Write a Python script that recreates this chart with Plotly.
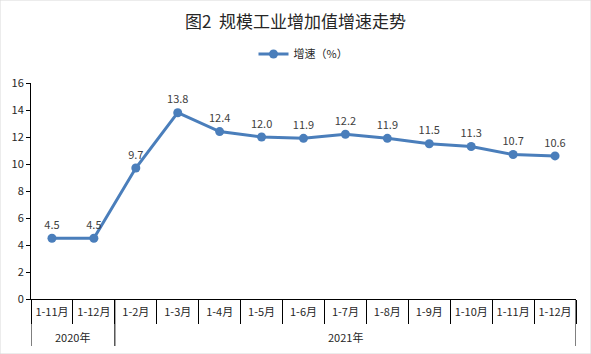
import plotly.graph_objects as go

years = ["2020年"] * 2 + ["2021年"] * 11
months = ["1-11月", "1-12月", "1-2月", "1-3月", "1-4月", "1-5月", "1-6月",
          "1-7月", "1-8月", "1-9月", "1-10月", "1-11月", "1-12月"]
growth = [4.5, 4.5, 9.7, 13.8, 12.4, 12.0, 11.9, 12.2, 11.9, 11.5, 11.3, 10.7, 10.6]
y_ticks = [0, 2, 4, 6, 8, 10, 12, 14, 16]

font_family = "Noto Sans CJK SC, Noto Sans, sans-serif"
idx = list(range(len(months)))

# group spans from the years list
groups = []
for i, yname in enumerate(years):
    if not groups or groups[-1][0] != yname:
        groups.append([yname, i, i])
    else:
        groups[-1][2] = i

PLOT_H = 216  # plot area height in px
fig = go.Figure()
fig.add_trace(go.Scatter(
    x=idx, y=growth, mode="lines+markers+text",
    name="增速（%）",
    line=dict(color="#4A7EBB", width=3),
    marker=dict(color="#4A7EBB", size=9),
    text=[f"{v:.1f}" for v in growth], textposition="top center",
    textfont=dict(size=11, color="#404040"),
    cliponaxis=False,
))

shapes = [dict(type="rect", xref="paper", yref="paper", x0=-31/545, x1=1+15/545,
               y0=-55/PLOT_H, y1=1+83/PLOT_H, line=dict(color="#D9D9D9", width=1))]
annotations = []
bounds = sorted({g[1] - 0.5 for g in groups} | {g[2] + 0.5 for g in groups})
for b in bounds:
    shapes.append(dict(type="line", xref="x", yref="paper", x0=b, x1=b,
                       y0=0, y1=-47/PLOT_H, line=dict(color="black", width=1)))
for name, s, e in groups:
    annotations.append(dict(x=(s + e) / 2, y=-38/PLOT_H, xref="x", yref="paper",
                            text=name, showarrow=False, yanchor="middle",
                            font=dict(size=11, color="#262626")))

fig.update_layout(
    width=591, height=354,
    margin=dict(l=31, r=15, t=83, b=55),
    paper_bgcolor="white", plot_bgcolor="white",
    font=dict(family=font_family, size=11, color="#404040"),
    title=dict(text="图2  规模工业增加值增速走势", x=0.5, xanchor="center",
               y=1 - 22/354, yanchor="middle", font=dict(size=17, color="#262626")),
    showlegend=True,
    legend=dict(orientation="h", x=0.5, xanchor="center", y=(299-54)/PLOT_H,
                yanchor="middle", font=dict(size=11, color="#262626"),
                bgcolor="rgba(0,0,0,0)"),
    xaxis=dict(range=[-0.5, len(months) - 0.5], tickmode="array", tickvals=idx,
               ticktext=months, tickangle=0, ticks="", showline=True,
               linecolor="black", linewidth=1, showgrid=False, zeroline=False,
               ticklabelstandoff=3,
               minor=dict(tick0=-0.5, dtick=1, ticks="outside", ticklen=24,
                          tickcolor="black", showgrid=False),
               tickfont=dict(size=11, color="#262626")),
    yaxis=dict(range=[0, 16], tickvals=y_ticks, showline=True, linecolor="black",
               linewidth=1, ticks="outside", ticklen=4, tickcolor="black",
               showgrid=False, zeroline=False, tickfont=dict(size=11, color="#262626")),
    shapes=shapes,
    annotations=annotations,
)

fig.write_html("out.html")
